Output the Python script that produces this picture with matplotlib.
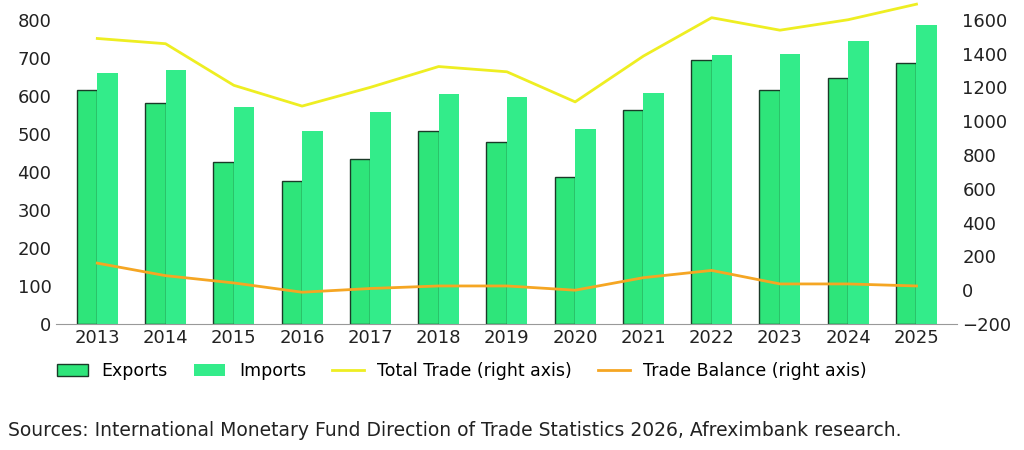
import matplotlib.pyplot as plt
import numpy as np

years = ['2013', '2014', '2015', '2016', '2017', '2018', '2019', '2020', '2021', '2022', '2023', '2024', '2025']
exports = [616, 580, 427, 376, 435, 508, 478, 386, 562, 695, 614, 646, 686]
imports = [659, 668, 570, 508, 557, 605, 597, 513, 608, 708, 711, 743, 786]
total_trade = [1489, 1458, 1212, 1089, 1200, 1323, 1292, 1114, 1385, 1612, 1538, 1600, 1692]
trade_balance = [160, 86, 43, -12, 10, 25, 25, 0, 74, 117, 37, 37, 25]

fig = plt.figure(figsize=(10.24, 4.5), dpi=100)
ax = fig.add_axes([0.055, 0.28, 0.88, 0.71])
x = np.arange(len(years))
w = 0.3
ax.bar(x - w / 2, exports, w, color='#2ee57a', edgecolor='#1a3a28', linewidth=1, label='Exports')
ax.bar(x + w / 2, imports, w, color='#33ec8a', label='Imports')
ax.set_ylim(0, 840)
ax.set_yticks(range(0, 801, 100))
ax.set_xlim(-0.6, len(years) - 0.4)
ax.set_xticks(x, years)
ax.tick_params(labelsize=13, colors='#222222', length=0)
for s in ['top', 'right', 'left']:
    ax.spines[s].set_visible(False)
ax.spines['bottom'].set_color('#999999')

ax2 = ax.twinx()
ax2.plot(x, total_trade, color='#eeee22', linewidth=2, label='Total Trade (right axis)', clip_on=False)
ax2.plot(x, trade_balance, color='#f5a623', linewidth=2, label='Trade Balance (right axis)')
ax2.set_ylim(-200, 1690)
ax2.set_yticks(range(-200, 1601, 200))
ax2.tick_params(labelsize=13, colors='#222222', length=0)
for s in ax2.spines.values():
    s.set_visible(False)

h1, l1 = ax.get_legend_handles_labels()
h2, l2 = ax2.get_legend_handles_labels()
fig.legend(h1 + h2, l1 + l2, loc='lower left', bbox_to_anchor=(0.04, 0.12), ncol=4,
           frameon=False, fontsize=12.5, handlelength=1.8, columnspacing=1.5)
fig.text(0.008, 0.03, 'Sources: International Monetary Fund Direction of Trade Statistics 2026, Afreximbank research.',
         fontsize=13.5, color='#222222')
fig.savefig('out.png')
